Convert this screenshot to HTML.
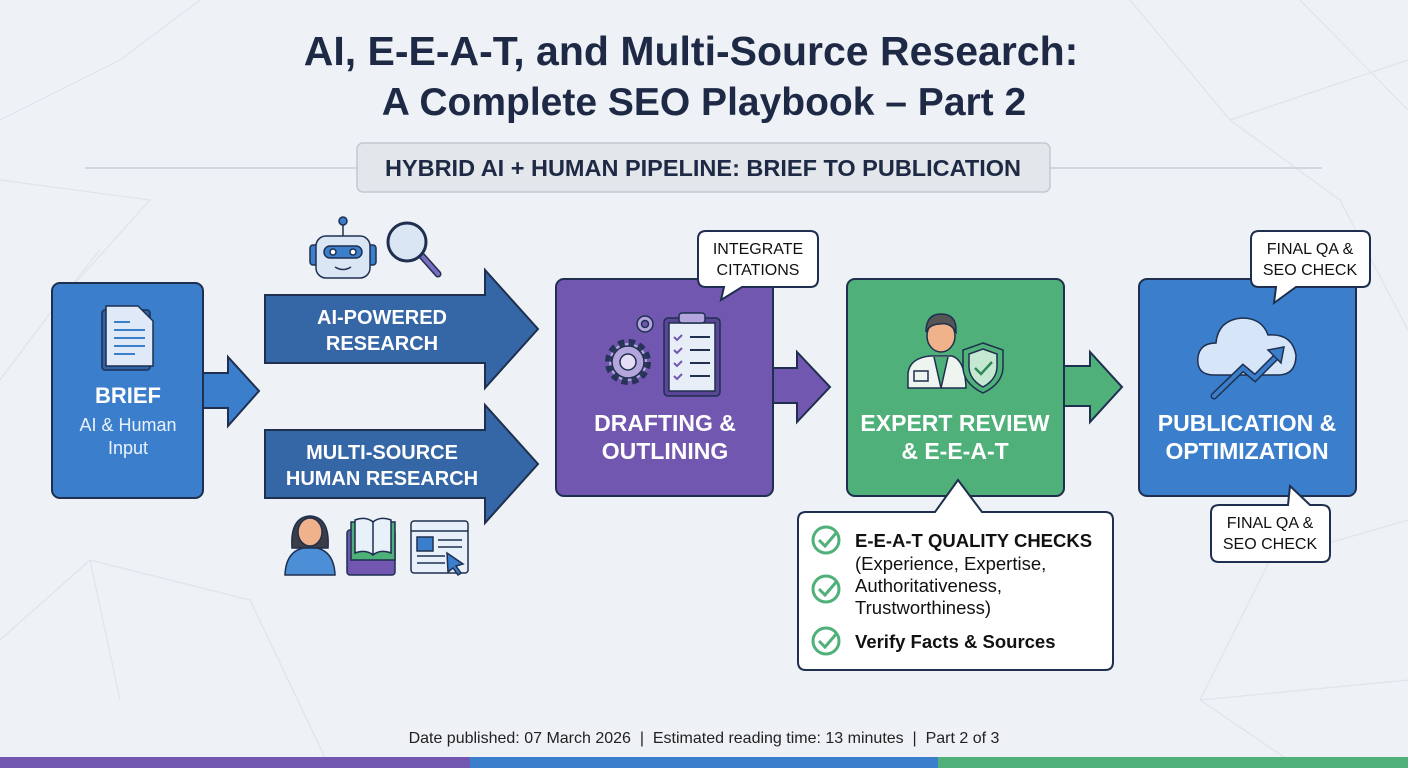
<!DOCTYPE html>
<html><head><meta charset="utf-8"><style>
html,body{margin:0;padding:0;background:#eef1f5}
svg{display:block}
text{font-family:"Liberation Sans",sans-serif}
</style></head><body>
<svg width="1408" height="768" viewBox="0 0 1408 768" xmlns="http://www.w3.org/2000/svg">
<rect width="1408" height="768" fill="#eef1f5"/>
<g stroke="#e0e4ea" stroke-width="1.2" fill="none">
<polyline points="0,120 120,60 200,0"/><polyline points="0,380 60,300 100,250"/><polyline points="60,300 150,200 0,180"/>
<polyline points="0,640 90,560 250,600 330,768"/><polyline points="90,560 120,700"/>
<polyline points="1130,0 1230,120 1408,60"/><polyline points="1230,120 1340,200 1408,330"/><polyline points="1300,0 1408,110"/>
<polyline points="1270,560 1408,520"/><polyline points="1270,560 1200,700 1300,768"/><polyline points="1200,700 1408,680"/>
</g>
<text x="691" y="65" text-anchor="middle" font-size="41" font-weight="bold" fill="#1e2a45">AI, E-E-A-T, and Multi-Source Research:</text>
<text x="704" y="115" text-anchor="middle" font-size="39" font-weight="bold" fill="#1e2a45">A Complete SEO Playbook – Part 2</text>
<line x1="85" y1="168" x2="1322" y2="168" stroke="#c9ced6" stroke-width="1.5"/>
<rect x="357" y="143" width="693" height="49" rx="6" fill="#e3e6ea" stroke="#c4c9d0" stroke-width="1.5"/>
<text x="703" y="176" text-anchor="middle" font-size="23.5" font-weight="bold" fill="#1e2a45">HYBRID AI + HUMAN PIPELINE: BRIEF TO PUBLICATION</text>

<!-- BRIEF -->
<path d="M203,373 H228 V357 L259,391 L228,426 V408 H203Z" fill="#3b7fcc" stroke="#1e2f4f" stroke-width="2"/>
<rect x="52" y="283" width="151" height="215" rx="8" fill="#3b7fcc" stroke="#1e2f4f" stroke-width="2"/>
<rect x="102" y="310" width="48" height="60" rx="3" fill="#2f64a8" stroke="#1e2f4f" stroke-width="1.5"/>
<path d="M106,306 H138 L153,321 V366 H106Z" fill="#dfe9f7" stroke="#1e2f4f" stroke-width="1.5"/>
<g stroke="#3b7fcc" stroke-width="2"><line x1="114" y1="322" x2="130" y2="322"/><line x1="114" y1="330" x2="145" y2="330"/><line x1="114" y1="338" x2="145" y2="338"/><line x1="114" y1="346" x2="145" y2="346"/><line x1="114" y1="354" x2="135" y2="354"/></g>
<text x="128" y="403" text-anchor="middle" font-size="22" font-weight="bold" fill="#fff">BRIEF</text>
<text x="128" y="431" text-anchor="middle" font-size="18" fill="#eaf1fb">AI &amp; Human</text>
<text x="128" y="454" text-anchor="middle" font-size="18" fill="#eaf1fb">Input</text>

<!-- research arrows -->
<path d="M265,295 H485 V270 L538,329 L485,388 V363 H265Z" fill="#3566a6" stroke="#1e2f4f" stroke-width="2"/>
<text x="382" y="324" text-anchor="middle" font-size="20" font-weight="bold" fill="#fff">AI-POWERED</text>
<text x="382" y="350" text-anchor="middle" font-size="20" font-weight="bold" fill="#fff">RESEARCH</text>
<path d="M265,430 H485 V405 L538,464 L485,523 V498 H265Z" fill="#3566a6" stroke="#1e2f4f" stroke-width="2"/>
<text x="382" y="459" text-anchor="middle" font-size="20" font-weight="bold" fill="#fff">MULTI-SOURCE</text>
<text x="382" y="485" text-anchor="middle" font-size="20" font-weight="bold" fill="#fff">HUMAN RESEARCH</text>

<!-- robot -->
<g stroke="#1e2f4f" stroke-width="1.5">
<line x1="343" y1="222" x2="343" y2="236"/><circle cx="343" cy="221" r="4" fill="#3b7fcc"/>
<rect x="310" y="245" width="8" height="20" rx="3" fill="#3b7fcc"/><rect x="368" y="245" width="8" height="20" rx="3" fill="#3b7fcc"/>
<rect x="316" y="236" width="54" height="42" rx="10" fill="#dbe6f5"/>
<rect x="324" y="246" width="38" height="12" rx="6" fill="#3b7fcc"/>
<circle cx="333" cy="252" r="3" fill="#fff"/><circle cx="353" cy="252" r="3" fill="#fff"/>
<path d="M335,267 Q343,272 351,267" fill="none"/>
<line x1="422" y1="256" x2="438" y2="274" stroke-width="7" stroke="#1e2f4f" stroke-linecap="round"/>
<line x1="422" y1="256" x2="438" y2="274" stroke-width="4" stroke="#7a6cc0" stroke-linecap="round"/>
<circle cx="407" cy="242" r="19" fill="#dbe6f5" stroke-width="3"/>
</g>
<!-- bottom icons -->
<g stroke="#1e2f4f" stroke-width="1.5">
<path d="M285,575 Q286,548 310,547 Q334,548 335,575Z" fill="#4d8fd6"/>
<path d="M292,548 Q290,517 310,516 Q330,517 328,548Z" fill="#3d3d45"/>
<ellipse cx="310" cy="532" rx="12" ry="14" fill="#f0b28a"/>
<rect x="347" y="530" width="48" height="45" rx="3" fill="#7157b0"/>
<rect x="351" y="522" width="44" height="38" fill="#4fb07a"/>
<path d="M355,520 Q366,516 373,522 Q380,516 391,520 V553 Q380,549 373,555 Q366,549 355,553Z" fill="#e8f0fa"/>
<line x1="373" y1="522" x2="373" y2="555"/>
<rect x="411" y="521" width="57" height="52" rx="3" fill="#e8f0fa"/>
<line x1="411" y1="531" x2="468" y2="531"/>
<rect x="417" y="537" width="16" height="14" fill="#3b7fcc"/>
<line x1="438" y1="540" x2="462" y2="540"/><line x1="438" y1="547" x2="462" y2="547"/><line x1="417" y1="556" x2="445" y2="556"/><line x1="417" y1="563" x2="445" y2="563"/>
<path d="M447,553 L463,564 L456,566 L461,573 L458,575 L453,568 L448,572Z" fill="#3b7fcc"/>
</g>

<!-- DRAFTING -->
<path d="M773,368 H797 V352 L830,387 L797,422 V403 H773Z" fill="#7157b0" stroke="#1e2f4f" stroke-width="2"/>
<rect x="556" y="279" width="217" height="217" rx="8" fill="#7157b0" stroke="#1e2f4f" stroke-width="2"/>
<g stroke="#1e2f4f" stroke-width="1.5">
<circle cx="628" cy="362" r="19" fill="#b4a6dc" stroke-dasharray="6 4" stroke-width="8" stroke-opacity="0.9"/>
<circle cx="628" cy="362" r="16" fill="#b4a6dc"/>
<circle cx="628" cy="362" r="8" fill="#e4ddf3"/>
<circle cx="645" cy="324" r="8" fill="#b4a6dc"/><circle cx="645" cy="324" r="3.5" fill="#7157b0"/>
<rect x="664" y="318" width="56" height="78" rx="4" fill="#5a4596"/>
<rect x="669" y="323" width="46" height="68" fill="#e8eef8"/>
<rect x="679" y="313" width="26" height="10" rx="3" fill="#b4a6dc"/>
<g stroke="#1e2f4f" stroke-width="2"><line x1="690" y1="337" x2="710" y2="337"/><line x1="690" y1="350" x2="710" y2="350"/><line x1="690" y1="363" x2="710" y2="363"/><line x1="690" y1="376" x2="710" y2="376"/></g>
<g stroke="#7157b0" stroke-width="2" fill="none"><path d="M674,337 l3,3 l5,-5"/><path d="M674,350 l3,3 l5,-5"/><path d="M674,363 l3,3 l5,-5"/><path d="M674,376 l3,3 l5,-5"/></g>
</g>
<text x="665" y="431" text-anchor="middle" font-size="23" font-weight="bold" fill="#fff">DRAFTING &amp;</text>
<text x="665" y="459" text-anchor="middle" font-size="23" font-weight="bold" fill="#fff">OUTLINING</text>
<path d="M706,231 H810 Q818,231 818,239 V279 Q818,287 810,287 H742 L721,300 L724,287 H706 Q698,287 698,279 V239 Q698,231 706,231Z" fill="#fff" stroke="#1e2f4f" stroke-width="2"/>
<text x="758" y="254" text-anchor="middle" font-size="16" fill="#111">INTEGRATE</text>
<text x="758" y="275" text-anchor="middle" font-size="16" fill="#111">CITATIONS</text>

<!-- EXPERT -->
<path d="M1064,366 H1090 V352 L1122,387 L1090,422 V406 H1064Z" fill="#4fb07a" stroke="#1e2f4f" stroke-width="2"/>
<rect x="847" y="279" width="217" height="217" rx="8" fill="#4fb07a" stroke="#1e2f4f" stroke-width="2"/>
<g stroke="#1e2f4f" stroke-width="1.5">
<path d="M908,388 V373 Q910,358 930,356 H952 Q965,360 966,388Z" fill="#eef4f0"/>
<path d="M934,357 L941,388 L948,357" fill="#4fb07a"/>
<rect x="914" y="371" width="14" height="10" fill="#eef4f0"/>
<ellipse cx="941" cy="336" rx="14" ry="16" fill="#f0b28a"/>
<path d="M926,332 Q926,314 941,314 Q957,314 956,332 Q950,322 940,324 Q930,324 926,332Z" fill="#555"/>
<path d="M983,343 L1003,350 V368 Q1002,384 983,393 Q964,384 963,368 V350Z" fill="#4fb07a"/>
<path d="M983,349 L997,354 V368 Q996,380 983,387 Q970,380 969,368 V354Z" fill="#c5e8d2"/>
<path d="M975,368 l6,6 l11,-12" fill="none" stroke="#2d8a55" stroke-width="2.5"/>
</g>
<text x="955" y="431" text-anchor="middle" font-size="23" font-weight="bold" fill="#fff">EXPERT REVIEW</text>
<text x="955" y="459" text-anchor="middle" font-size="23" font-weight="bold" fill="#fff">&amp; E-E-A-T</text>
<path d="M806,512 H935 L958,480 L982,512 H1105 Q1113,512 1113,520 V662 Q1113,670 1105,670 H806 Q798,670 798,662 V520 Q798,512 806,512Z" fill="#fff" stroke="#1e2f4f" stroke-width="2"/>
<g stroke="#4fb07a" stroke-width="3" fill="none">
<circle cx="826" cy="540" r="13"/><path d="M819,540 l6,6 l12,-14"/>
<circle cx="826" cy="589" r="13"/><path d="M819,589 l6,6 l12,-14"/>
<circle cx="826" cy="641" r="13"/><path d="M819,641 l6,6 l12,-14"/>
</g>
<text x="855" y="547" font-size="18.5" font-weight="bold" fill="#111">E-E-A-T QUALITY CHECKS</text>
<text x="855" y="570" font-size="18.5" fill="#111">(Experience, Expertise,</text>
<text x="855" y="592" font-size="18.5" fill="#111">Authoritativeness,</text>
<text x="855" y="614" font-size="18.5" fill="#111">Trustworthiness)</text>
<text x="855" y="648" font-size="18.5" font-weight="bold" fill="#111">Verify Facts &amp; Sources</text>

<!-- PUBLICATION -->
<rect x="1139" y="279" width="217" height="217" rx="8" fill="#3b7fcc" stroke="#1e2f4f" stroke-width="2"/>
<path d="M1214,375 Q1196,375 1198,357 Q1200,343 1216,343 Q1218,320 1242,318 Q1262,318 1268,335 Q1292,333 1296,355 Q1296,375 1278,375Z" fill="#d6e6f8" stroke="#1e2f4f" stroke-width="1.5"/>
<path d="M1214,396 L1243,368 L1255,378 L1279,354" fill="none" stroke="#1e2f4f" stroke-width="7" stroke-linecap="round"/>
<path d="M1214,396 L1243,368 L1255,378 L1279,354" fill="none" stroke="#3b7fcc" stroke-width="4" stroke-linecap="round"/>
<path d="M1268,350 L1284,347 L1281,363Z" fill="#3b7fcc" stroke="#1e2f4f" stroke-width="1.5"/>
<text x="1247" y="431" text-anchor="middle" font-size="23" font-weight="bold" fill="#fff">PUBLICATION &amp;</text>
<text x="1247" y="459" text-anchor="middle" font-size="23" font-weight="bold" fill="#fff">OPTIMIZATION</text>
<path d="M1259,231 H1362 Q1370,231 1370,239 V279 Q1370,287 1362,287 H1296 L1274,303 L1276,287 H1259 Q1251,287 1251,279 V239 Q1251,231 1259,231Z" fill="#fff" stroke="#1e2f4f" stroke-width="2"/>
<text x="1310" y="254" text-anchor="middle" font-size="16" fill="#111">FINAL QA &amp;</text>
<text x="1310" y="275" text-anchor="middle" font-size="16" fill="#111">SEO CHECK</text>
<path d="M1219,505 H1288 L1290,486 L1310,505 H1322 Q1330,505 1330,513 V554 Q1330,562 1322,562 H1219 Q1211,562 1211,554 V513 Q1211,505 1219,505Z" fill="#fff" stroke="#1e2f4f" stroke-width="2"/>
<text x="1270" y="528" text-anchor="middle" font-size="16" fill="#111">FINAL QA &amp;</text>
<text x="1270" y="549" text-anchor="middle" font-size="16" fill="#111">SEO CHECK</text>

<text x="704" y="743" text-anchor="middle" font-size="16" fill="#222" xml:space="preserve">Date published: 07 March 2026  |  Estimated reading time: 13 minutes  |  Part 2 of 3</text>
<rect x="0" y="757" width="470" height="11" fill="#7157b0"/>
<rect x="470" y="757" width="468" height="11" fill="#3b7fcc"/>
<rect x="938" y="757" width="470" height="11" fill="#4fb07a"/>
</svg>
</body></html>
